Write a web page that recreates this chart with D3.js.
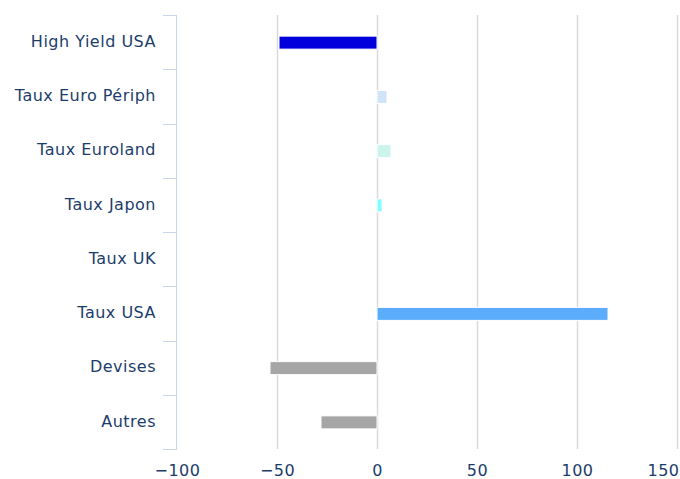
<!DOCTYPE html>
<html>
<head>
<meta charset="utf-8">
<script src="https://cdn.jsdelivr.net/npm/d3@7"></script>
<style>
  body { margin: 0; background: #fff; }
  text { font-family: "DejaVu Sans", sans-serif; }
</style>
</head>
<body>
<div class="canvas"></div>
<script>
// Data
const categories = ['High Yield USA', 'Taux Euro Périph', 'Taux Euroland', 'Taux Japon', 'Taux UK', 'Taux USA', 'Devises', 'Autres'];
const values = [-49, 5, 7, 2.5, 0, 115.5, -53.5, -28];
const colours = ['#0000dd', '#d0e3f7', '#ccf4ec', '#80fbff', '#cccccc', '#5badfc', '#a6a6a6', '#a6a6a6'];
const xTicks = [-100, -50, 0, 50, 100, 150];

// Setup dimensions
const dims = { width: 680, height: 479 };
const plot = { left: 177, right: 677, top: 15, bottom: 449 };

const svg = d3.select('.canvas')
  .append('svg')
  .attr('width', dims.width)
  .attr('height', dims.height);

const x = d3.scaleLinear()
  .domain([-100, 150])
  .range([plot.left, plot.right]);

const y = d3.scaleBand()
  .domain(categories)
  .range([plot.top, plot.bottom]);

// vertical grid lines
svg.append('g')
  .selectAll('line')
  .data(xTicks.slice(1))
  .enter()
  .append('line')
    .attr('x1', d => Math.round(x(d)) + 0.5)
    .attr('x2', d => Math.round(x(d)) + 0.5)
    .attr('y1', plot.top)
    .attr('y2', plot.bottom)
    .attr('stroke', '#dadada')
    .attr('stroke-width', 1.5);

// x axis labels only
const xAxis = d3.axisBottom(x)
  .tickValues(xTicks)
  .tickSize(0)
  .tickPadding(0)
  .tickFormat(d => d3.format('')(d).replace('-', '\u2212'));

const xg = svg.append('g')
  .attr('transform', `translate(0, ${plot.bottom})`)
  .call(xAxis);
xg.select('.domain').remove();
xg.selectAll('text')
  .attr('fill', '#1c3d6b')
  .attr('font-size', 16)
  .attr('letter-spacing', 0.5)
  .attr('dy', null)
  .attr('y', 27);
// last label kept inside the chart, like the reference
xg.selectAll('.tick')
  .filter(d => d === xTicks[xTicks.length - 1])
  .select('text')
    .attr('text-anchor', 'end')
    .attr('x', 2);

// y axis: line, ticks at band edges, labels
const yg = svg.append('g');
yg.append('line')
  .attr('x1', plot.left - 0.5)
  .attr('x2', plot.left - 0.5)
  .attr('y1', plot.top)
  .attr('y2', plot.bottom)
  .attr('stroke', '#ccd6eb');

const edges = categories.map(c => y(c)).concat([plot.bottom]);
yg.selectAll('.tick')
  .data(edges)
  .enter()
  .append('line')
    .attr('x1', plot.left - 14)
    .attr('x2', plot.left)
    .attr('y1', d => Math.round(d) + 0.5)
    .attr('y2', d => Math.round(d) + 0.5)
    .attr('stroke', '#ccd6eb');

yg.selectAll('text')
  .data(categories)
  .enter()
  .append('text')
    .attr('x', 156)
    .attr('y', d => y(d) + y.bandwidth() / 2)
    .attr('dy', '0.3em')
    .attr('text-anchor', 'end')
    .attr('fill', '#1c3d6b')
    .attr('font-size', 16)
    .attr('letter-spacing', 0.5)
    .text(d => d);

// bars
const barH = 13;
svg.append('g')
  .selectAll('rect')
  .data(values)
  .enter()
  .append('rect')
    .attr('x', d => x(Math.min(0, d)))
    .attr('width', d => Math.abs(x(d) - x(0)))
    .attr('y', (d, i) => y(categories[i]) + y.bandwidth() / 2 - barH / 2 + 0.5)
    .attr('height', barH)
    .attr('fill', (d, i) => colours[i])
    .attr('stroke', '#fff')
    .attr('stroke-width', 1);
</script>
</body>
</html>
